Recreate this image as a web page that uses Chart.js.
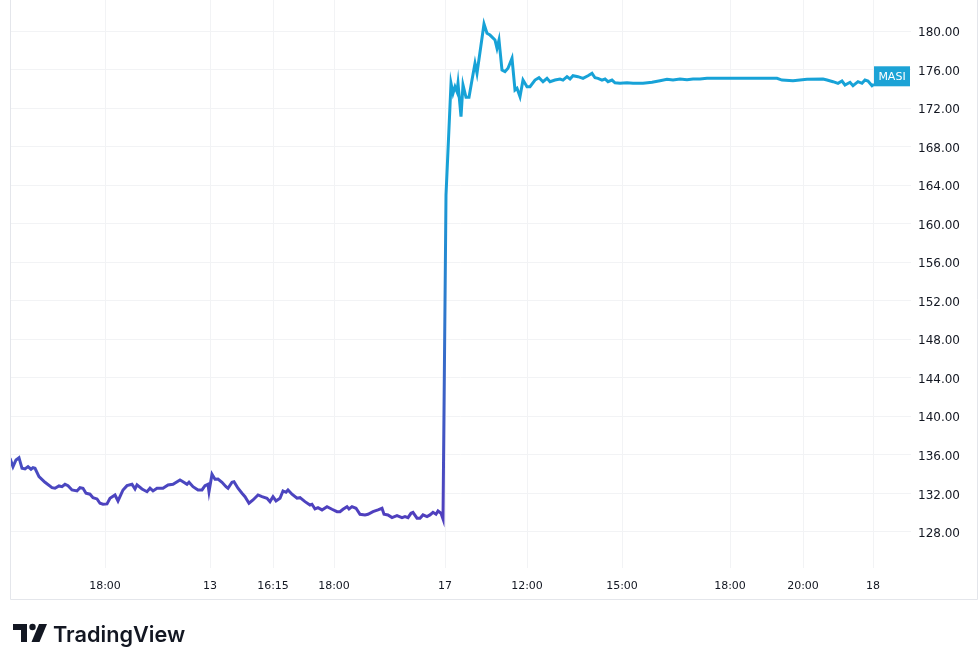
<!DOCTYPE html>
<html>
<head>
<meta charset="utf-8">
<script src="https://cdn.jsdelivr.net/npm/chart.js@4/dist/chart.umd.min.js"></script>
<style>
  html, body { margin: 0; padding: 0; background: #ffffff; }
  #wrap { width: 980px; height: 653px; position: relative; }
</style>
</head>
<body>
<div id="wrap"><canvas id="canvas" width="980" height="653"></canvas></div>
<script>
// MASI, bar number on the time axis and close value.
var bars = [
  0, 3, 6, 9, 12, 15, 18, 21, 23, 25, 29, 35, 42, 45, 49, 52, 55, 58, 62, 67,
  70, 73, 76, 80, 83, 87, 90, 93, 97, 100, 105, 108, 113, 117, 122, 125, 127, 132, 137, 140,
  143, 147, 153, 158, 163, 170, 173, 177, 179, 183, 188, 192, 195, 198, 199, 202, 205, 208, 212, 216,
  218, 222, 224, 228, 232, 235, 239, 243, 248, 252, 257, 260, 263, 266, 270, 273, 276, 278, 282, 287,
  290, 295, 300, 302, 305, 308, 312, 317, 322, 327, 330, 333, 337, 339, 342, 346, 350, 355, 358, 363,
  368, 372, 374, 378, 382, 387, 392, 395, 398, 401, 403, 407, 410, 413, 417, 420, 423, 426, 428, 431,
  433, 436, 441, 443, 445, 447, 448, 451, 453, 456, 459, 462, 465, 467, 474, 477, 480, 485, 487, 489,
  492, 495, 498, 502, 505, 507, 510, 513, 517, 520, 525, 529, 533, 537, 540, 545, 550, 553, 557, 560,
  563, 568, 573, 578, 582, 585, 588, 592, 595, 598, 602, 605, 610, 617, 623, 633, 642, 650, 657, 663,
  670, 677, 683, 690, 697, 710, 720, 740, 767, 772, 783, 797, 813, 817, 823, 828, 832, 835, 840, 843,
  848, 852, 855, 858, 862, 864
];
var values = [
  135.65, 134.78, 135.47, 135.71, 134.61, 134.54, 134.78, 134.51, 134.68, 134.61, 133.74, 133.16, 132.60, 132.54, 132.78, 132.71, 132.95, 132.81, 132.36, 132.26,
  132.60, 132.54, 132.02, 131.92, 131.56, 131.43, 130.98, 130.88, 130.91, 131.50, 131.84, 131.22, 132.36, 132.81, 132.95, 132.46, 132.88, 132.46, 132.18, 132.54,
  132.26, 132.54, 132.54, 132.88, 132.95, 133.40, 133.22, 132.95, 133.16, 132.70, 132.36, 132.36, 132.81, 132.95, 132.18, 133.99, 133.47, 133.50, 133.16, 132.70,
  132.54, 133.16, 133.22, 132.54, 132.02, 131.66, 130.98, 131.32, 131.84, 131.66, 131.50, 131.15, 131.66, 131.22, 131.50, 132.26, 132.12, 132.36, 131.92, 131.50,
  131.56, 131.15, 130.80, 130.88, 130.39, 130.52, 130.29, 130.63, 130.36, 130.11, 130.11, 130.36, 130.63, 130.39, 130.63, 130.46, 129.84, 129.77, 129.84, 130.11,
  130.29, 130.46, 129.84, 129.77, 129.49, 129.69, 129.49, 129.59, 129.49, 129.94, 130.04, 129.43, 129.43, 129.77, 129.59, 129.77, 130.04, 129.84, 130.18, 129.94,
  129.35, 162.98, 174.57, 173.53, 174.22, 173.70, 174.57, 171.11, 174.40, 173.12, 173.12, 174.91, 176.65, 175.61, 180.73, 179.76, 179.58, 179.07, 178.20, 179.07,
  175.95, 175.78, 176.13, 177.17, 173.88, 174.05, 173.18, 174.91, 174.22, 174.22, 174.91, 175.15, 174.74, 175.09, 174.74, 174.91, 175.02, 174.91, 175.26, 175.02,
  175.36, 175.26, 175.09, 175.36, 175.61, 175.15, 175.09, 174.91, 175.02, 174.74, 174.91, 174.63, 174.57, 174.63, 174.57, 174.57, 174.68, 174.84, 174.99, 174.91,
  175.02, 174.95, 175.02, 175.02, 175.09, 175.09, 175.09, 175.09, 175.09, 174.91, 174.84, 174.99, 175.02, 174.91, 174.74, 174.57, 174.81, 174.40, 174.68, 174.32,
  174.74, 174.57, 174.91, 174.81, 174.32, 174.47
];

// time axis labels
var tickBars = [95, 200, 263, 324, 435, 517, 612, 720, 793, 863];
var tickLabels = ['18:00', '13', '16:15', '18:00', '17', '12:00', '15:00', '18:00', '20:00', '18'];

// price axis labels
var priceTicks = [128, 132, 136, 140, 144, 148, 152, 156, 160, 164, 168, 172, 176, 180];

var symbol = 'MASI';
var textColor = '#131722';
var purple = '#4f3fbe';
var cyan = '#17a2d7';

function lineGradient(context) {
  var chart = context.chart;
  if (!chart.chartArea) {
    return cyan;
  }
  var y = chart.scales.y;
  var g = chart.ctx.createLinearGradient(0, y.getPixelForValue(130), 0, y.getPixelForValue(166));
  g.addColorStop(0, purple);
  g.addColorStop(1, cyan);
  return g;
}

// frame, last value label and logo.
var decorPlugin = {
  id: 'decor',
  beforeDraw: function(chart) {
    var ctx = chart.ctx;
    ctx.save();
    ctx.fillStyle = '#ffffff';
    ctx.fillRect(0, 0, chart.width, chart.height);
    ctx.restore();
  },
  afterDraw: function(chart) {
    var ctx = chart.ctx;
    var area = chart.chartArea;
    ctx.save();

    // frame round pane + axes
    ctx.strokeStyle = '#e4e6eb';
    ctx.lineWidth = 1;
    ctx.beginPath();
    ctx.moveTo(area.left + 0.5, area.top);
    ctx.lineTo(area.left + 0.5, 599.5);
    ctx.lineTo(977.5, 599.5);
    ctx.lineTo(977.5, area.top);
    ctx.stroke();

    // symbol label at last value
    var lastX = chart.scales.x.getPixelForValue(bars[bars.length - 1]);
    var lastY = chart.scales.y.getPixelForValue(values[values.length - 1]) - 8;
    ctx.fillStyle = '#1ca3d6';
    ctx.fillRect(lastX, lastY - 10, area.right - lastX - 1, 20);
    ctx.fillStyle = '#ffffff';
    ctx.font = '11px "DejaVu Sans"';
    ctx.textAlign = 'center';
    ctx.textBaseline = 'middle';
    ctx.fillText(symbol, (lastX + area.right - 1) / 2, lastY + 1);

    // TradingView logo
    ctx.fillStyle = '#131722';
    ctx.fillRect(13, 624, 14, 6);
    ctx.fillRect(21, 624, 6, 18);
    ctx.beginPath();
    ctx.arc(32.5, 627, 3.2, 0, Math.PI * 2);
    ctx.fill();
    ctx.beginPath();
    ctx.moveTo(39, 624);
    ctx.lineTo(47, 624);
    ctx.lineTo(39.5, 642);
    ctx.lineTo(31.5, 642);
    ctx.closePath();
    ctx.fill();

    ctx.font = '600 22px Inter';
    var w = ctx.measureText('TradingView').width;
    var size = 22 * 132 / w;
    ctx.font = '600 ' + size.toFixed(1) + 'px Inter';
    ctx.textAlign = 'left';
    ctx.textBaseline = 'alphabetic';
    ctx.fillText('TradingView', 53, 642);

    ctx.restore();
  }
};

var points = [];
for (var i = 0; i < bars.length; i++) {
  points.push({x: bars[i], y: values[i]});
}

var config = {
  type: 'line',
  data: {
    datasets: [{
      label: symbol,
      data: points,
      borderColor: lineGradient,
      borderWidth: 3,
      pointRadius: 0,
      tension: 0,
      fill: false
    }]
  },
  options: {
    responsive: false,
    animation: false,
    layout: { padding: { left: 10, right: 0, top: 0, bottom: 54 } },
    plugins: {
      legend: { display: false },
      tooltip: { enabled: false }
    },
    scales: {
      x: {
        type: 'linear',
        min: 0,
        max: 901,
        afterFit: function(scale) {
          scale.height = 31;
          scale.paddingLeft = 0;
          scale.paddingRight = 0;
        },
        afterBuildTicks: function(scale) {
          scale.ticks = tickBars.map(function(v) { return {value: v}; });
        },
        grid: { color: '#f2f3f5', drawTicks: false },
        border: { display: false },
        ticks: {
          autoSkip: false,
          maxRotation: 0,
          padding: 12,
          color: textColor,
          font: { family: 'DejaVu Sans', size: 11 },
          callback: function(value, index) { return tickLabels[index]; }
        }
      },
      y: {
        position: 'right',
        min: 124.26,
        max: 183.22,
        afterFit: function(scale) {
          scale.width = 69;
          scale.paddingTop = 0;
          scale.paddingBottom = 0;
        },
        afterBuildTicks: function(scale) {
          scale.ticks = priceTicks.map(function(v) { return {value: v}; });
        },
        grid: { color: '#f2f3f5', drawTicks: false },
        border: { display: false },
        ticks: {
          padding: 7,
          labelOffset: 2,
          color: textColor,
          font: { family: 'DejaVu Sans', size: 12 },
          callback: function(value) { return value.toFixed(2); }
        }
      }
    }
  },
  plugins: [decorPlugin]
};

var chart = new Chart(document.getElementById('canvas'), config);
</script>
</body>
</html>
